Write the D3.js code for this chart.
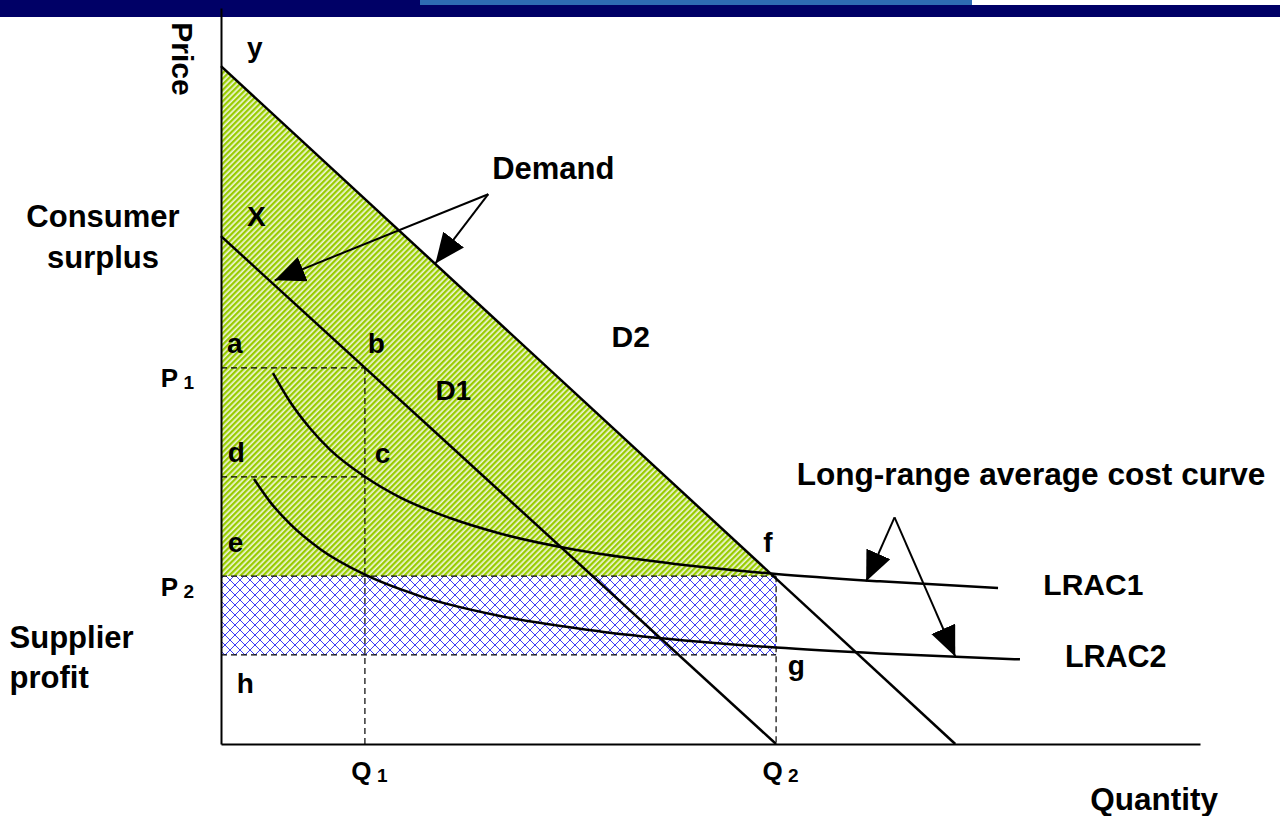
<!DOCTYPE html>
<html><head><meta charset="utf-8">
<script src="https://cdn.jsdelivr.net/npm/d3@7"></script>
<style>
body{margin:0;background:#fff;}
svg{display:block;}
text{font-family:"Liberation Sans",Arial,Helvetica,sans-serif;font-weight:bold;fill:#000;}
</style>
</head><body>
<svg id="chart" width="1280" height="816"></svg>
<script>
// ---------------- data (quantity 0-100, price 0-100) ----------------
const demandD1 = [[0, 69.0], [56.7, 0]];
const demandD2 = [[0, 92.1], [75.0, 0]];
const lrac1 = [[5.31,50.4],[7.05,46.5],[9.09,42.9],[11.13,40.0],[14.71,36.3],[18.28,33.5],[23.39,30.7],[28.5,28.6],[36.16,26.4],[43.82,24.9],[56.69,23.1],[67.31,22.1],[79.37,21.2]];
const lrac2 = [[3.37,36.0],[5.01,32.9],[7.05,29.9],[10.11,26.5],[14.71,23.0],[20.33,20.1],[28.5,17.4],[38.71,15.3],[48.93,13.9],[56.69,13.1],[67.31,12.3],[81.61,11.5]];
const quantityTicks = [{name:"Q", sub:"1", value:14.7},{name:"Q", sub:"2", value:56.7}];
const priceTicks = [{name:"P", sub:"1", value:51.1},{name:"P", sub:"2", value:22.8}];
const levelD = 36.3;   // price level at point c / d
const levelG = 12.1;   // price level at point g / h
const demandArrows = {apex:[27.3,74.7], tips:[[5.5,63.0],[21.9,65.3]]};
const lracArrows = {apex:[68.8,30.8], tips:[[65.9,22.1],[75.0,11.9]]};
const labels = [
  {t:"y", q:2.66, p:93.3, s:28},
  {t:"X", q:2.66, p:70.4, s:28},
  {t:"Demand", q:27.7, p:76.8, s:31},
  {t:"Consumer", q:-12.05, p:70.2, s:31, a:"middle"},
  {t:"surplus", q:-12.05, p:64.7, s:31, a:"middle"},
  {t:"a", q:0.61, p:53.1, s:28},
  {t:"b", q:15.0, p:53.1, s:28},
  {t:"D1", q:21.9, p:46.7, s:28},
  {t:"D2", q:39.9, p:53.9, s:30},
  {t:"d", q:0.7, p:38.3, s:28},
  {t:"c", q:15.7, p:38.2, s:28},
  {t:"e", q:0.7, p:26.1, s:28},
  {t:"f", q:55.4, p:26.1, s:28},
  {t:"Long-range average cost curve", q:58.8, p:35.2, s:31.6},
  {t:"LRAC1", q:84.0, p:20.2, s:30},
  {t:"LRAC2", q:86.2, p:10.5, s:30.5},
  {t:"Supplier", q:-21.6, p:13.0, s:31},
  {t:"profit", q:-21.6, p:7.6, s:31},
  {t:"h", q:1.6, p:6.9, s:28},
  {t:"g", q:57.9, p:9.4, s:28},
  {t:"Quantity", q:88.8, p:-9.0, s:31.5}
];

// ---------------- drawing ----------------
const svg = d3.select("#chart");
const x = d3.scaleLinear().domain([0,100]).range([221,1200]);
const y = d3.scaleLinear().domain([0,100]).range([744,8]);

// slide banner
svg.append("rect").attr("x",0).attr("y",0).attr("width",1280).attr("height",17).attr("fill","#000066");
svg.append("rect").attr("x",420).attr("y",0).attr("width",552).attr("height",5).attr("fill","#2e6bb4");
svg.append("rect").attr("x",972).attr("y",0).attr("width",308).attr("height",5).attr("fill","#ffffff");

const defs = svg.append("defs");
const gp = defs.append("pattern").attr("id","greenHatch").attr("width",4).attr("height",4)
  .attr("patternUnits","userSpaceOnUse").attr("patternTransform","rotate(45)");
gp.append("rect").attr("width",4).attr("height",4).attr("fill","#eef6d8");
gp.append("rect").attr("width",2.3).attr("height",4).attr("fill","#99cc00");
const bp = defs.append("pattern").attr("id","blueHatch").attr("width",10).attr("height",10)
  .attr("patternUnits","userSpaceOnUse");
bp.append("rect").attr("width",10).attr("height",10).attr("fill","#ffffff");
bp.append("path").attr("d","M0,0L10,10M10,0L0,10").attr("stroke","#3d3df5").attr("stroke-width",1);
defs.append("marker").attr("id","ah").attr("viewBox","0 0 30 26").attr("refX",30).attr("refY",13)
  .attr("markerWidth",30).attr("markerHeight",26).attr("markerUnits","userSpaceOnUse").attr("orient","auto")
  .append("path").attr("d","M0,0L30,13L0,26Z").attr("fill","#000");

const line = d3.line().x(d=>x(d[0])).y(d=>y(d[1]));
const P1 = priceTicks[0].value, P2 = priceTicks[1].value;
const Q1 = quantityTicks[0].value, Q2 = quantityTicks[1].value;
// D2 at price P2
const fq = demandD2[1][0]*(1 - P2/demandD2[0][1]);

// consumer surplus
svg.append("path").attr("d", line([[0,demandD2[0][1]],[fq,P2],[0,P2]])+"Z").attr("fill","url(#greenHatch)");
// supplier profit
svg.append("rect").attr("x",x(0)).attr("y",y(P2)).attr("width",x(Q2)-x(0)).attr("height",y(levelG)-y(P2))
  .attr("fill","url(#blueHatch)");

// dashed guide lines
const dashes = [
  [[0,P1],[Q1,P1]], [[Q1,P1],[Q1,0]], [[0,levelD],[Q1,levelD]],
  [[0,P2],[Q2,P2]], [[0,levelG],[Q2,levelG]], [[Q2,P2],[Q2,0]]
];
svg.selectAll(".dash").data(dashes).join("path").attr("class","dash").attr("d",line)
  .attr("fill","none").attr("stroke","#000").attr("stroke-width",1.2).attr("stroke-dasharray","6,4");

// cost curves
const curve = d3.line().x(d=>x(d[0])).y(d=>y(d[1])).curve(d3.curveMonotoneX);
svg.selectAll(".lrac").data([lrac1, lrac2]).join("path").attr("class","lrac").attr("d",curve)
  .attr("fill","none").attr("stroke","#000").attr("stroke-width",2.5);
// demand lines
svg.selectAll(".dem").data([demandD1, demandD2]).join("path").attr("class","dem").attr("d",line)
  .attr("fill","none").attr("stroke","#000").attr("stroke-width",2.5);

// axes
const xAxis = svg.append("g").attr("transform",`translate(0,${y(0)})`)
  .call(d3.axisBottom(x).tickValues(quantityTicks.map(d=>d.value)).tickSize(0).tickSizeOuter(0).tickFormat(""));
const yAxis = svg.append("g").attr("transform",`translate(${x(0)},0)`)
  .call(d3.axisLeft(y).tickValues(priceTicks.map(d=>d.value)).tickSize(0).tickSizeOuter(0).tickFormat(""));
[xAxis,yAxis].forEach(g=>g.select(".domain").attr("stroke","#000").attr("stroke-width",2));

xAxis.selectAll(".tick text").data(quantityTicks).attr("y",36).attr("dy",0).attr("x",4)
  .attr("text-anchor","middle").attr("fill","#000").style("font-size","26px")
  .each(function(d){ const t=d3.select(this); t.text(null);
    t.append("tspan").text(d.name);
    t.append("tspan").text(" "+d.sub).style("font-size","19px").attr("dy",2); });
yAxis.selectAll(".tick text").data(priceTicks).attr("x",-27).attr("dy",0).attr("y",19)
  .attr("text-anchor","end").attr("fill","#000").style("font-size","26px")
  .each(function(d){ const t=d3.select(this); t.text(null);
    t.append("tspan").text(d.name);
    t.append("tspan").text(" "+d.sub).style("font-size","19px").attr("dy",2); });

// arrows
[demandArrows, lracArrows].forEach(a=>{
  a.tips.forEach(tp=>{
    svg.append("path").attr("d", line([a.apex, tp])).attr("stroke","#000").attr("stroke-width",2)
      .attr("fill","none").attr("marker-end","url(#ah)");
  });
});

// labels
svg.selectAll(".lbl").data(labels).join("text").attr("class","lbl")
  .attr("x",d=>x(d.q)).attr("y",d=>y(d.p)).attr("text-anchor",d=>d.a||"start")
  .style("font-size",d=>d.s+"px").text(d=>d.t);
svg.append("text").attr("transform","translate(172,59) rotate(90)").attr("text-anchor","middle")
  .style("font-size","30px").text("Price");
</script>
</body></html>
